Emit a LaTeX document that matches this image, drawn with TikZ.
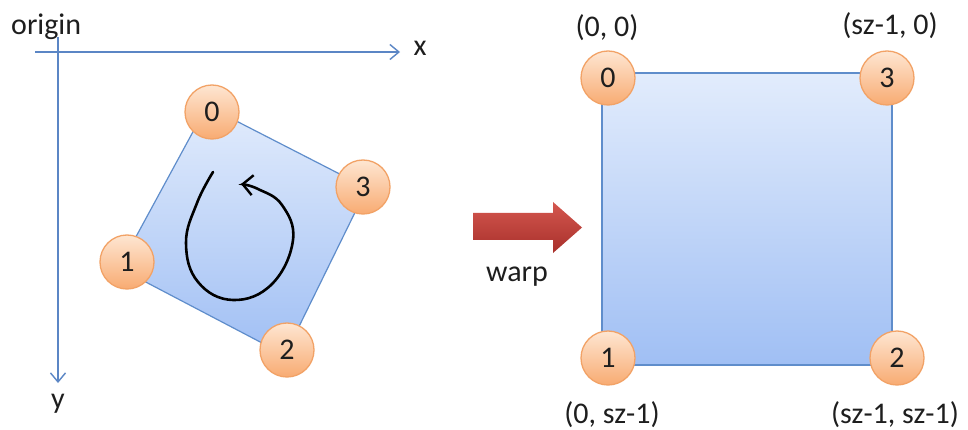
\documentclass[tikz,border=0pt]{standalone}
\usepackage{fontspec}
\setmainfont{Carlito}
\usetikzlibrary{arrows.meta}
\definecolor{axisblue}{HTML}{5B86C5}
\definecolor{sqedge}{HTML}{5F8DCB}
\definecolor{sqtop}{HTML}{E2ECFC}
\definecolor{sqbot}{HTML}{A0BFF4}
\definecolor{vtxedge}{HTML}{F2A266}
\definecolor{vtxtop}{HTML}{FEE6D2}
\definecolor{vtxbot}{HTML}{F8AB72}
\definecolor{redtop}{HTML}{D4574F}
\definecolor{redbot}{HTML}{A8302B}
\definecolor{txt}{HTML}{1E1E1E}
\tikzset{
  axisline/.style={draw=axisblue, line width=1.4pt, -{Straight Barb[length=9pt,width=15pt,line width=1.4pt]}},
  quad/.style={draw=sqedge, line width=1.2pt, top color=sqtop, bottom color=sqbot},
  vtx/.style={circle, minimum size=54pt, inner sep=0pt, draw=vtxedge, line width=1.3pt, top color=vtxtop, bottom color=vtxbot, text=txt},
  lbl/.style={text=txt, inner sep=0pt},
  bigarrow/.style={draw=none, top color=redtop, bottom color=redbot},
  spin/.style={draw=black, line width=2.6pt, line cap=round, -{Straight Barb[length=10pt,width=20pt,line width=2.4pt]}}
}
\begin{document}
\begin{tikzpicture}[x=1pt, y=-1pt, font=\fontsize{30}{35}\selectfont]
\useasboundingbox (0,0) rectangle (968,430);
\fill[white] (0,0) rectangle (968,430);

% axes
\coordinate (xs) at (35,52);
\coordinate (xe) at (400,52);
\coordinate (ys) at (58,37);
\coordinate (ye) at (58,383);
\draw[axisline] (xs) -- (xe);
\draw[axisline] (ys) -- (ye);
\node[lbl, anchor=west] (origin) at (11,27) {origin};
\node[lbl] (xl) at (420,48) {x};
\node[lbl] (yl) at (58,404) {y};

% rotated quad
\coordinate (q0) at (207,106);
\coordinate (q3) at (367,188);
\coordinate (q2) at (285,355);
\coordinate (q1) at (119,268);
\draw[quad] (q0) -- (q3) -- (q2) -- (q1) -- cycle;

% rotation arrow
\draw[spin] plot[smooth, tension=0.7] coordinates {(213,172) (197,203) (186,243) (198,282) (233,300) (272,284) (293,240) (282,205) (258,189) (241,184)};

\node[vtx] (a0) at (212,112) {0};
\node[vtx] (a3) at (363,187) {3};
\node[vtx] (a1) at (127,262) {1};
\node[vtx] (a2) at (287,350) {2};

% warp arrow
\draw[bigarrow] (473,213) -- (553,213) -- (553,202) -- (582,227.5) -- (553,253) -- (553,240) -- (473,240) -- cycle;
\node[lbl] (warp) at (517,277) {warp};

% right square
\coordinate (r0) at (602,73);
\coordinate (r2) at (892,365);
\draw[quad] (r0) rectangle (r2);
\node[vtx] (b0) at (608,78) {0};
\node[vtx] (b3) at (887,78) {3};
\node[vtx] (b1) at (608,358) {1};
\node[vtx] (b2) at (897,358) {2};

\node[lbl] (t0) at (607,28) {(0, 0)};
\node[lbl] (t3) at (890,26) {(sz-1, 0)};
\node[lbl] (t1) at (612,415) {(0, sz-1)};
\node[lbl] (t2) at (895,415) {(sz-1, sz-1)};
\end{tikzpicture}
\end{document}
